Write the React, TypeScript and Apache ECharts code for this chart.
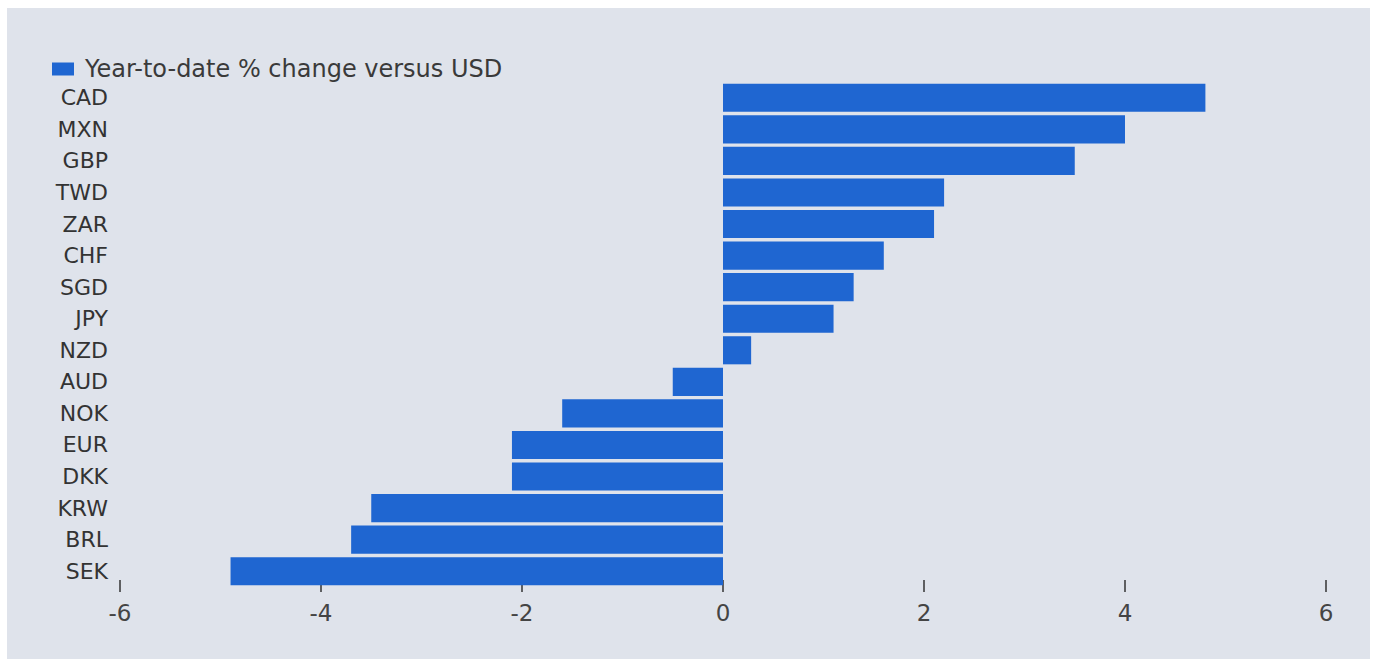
import React, { useEffect, useRef } from "react";
import * as echarts from "echarts";

const categories = ["CAD", "MXN", "GBP", "TWD", "ZAR", "CHF", "SGD", "JPY", "NZD", "AUD", "NOK", "EUR", "DKK", "KRW", "BRL", "SEK"];
const ytdChange = [4.8, 4.0, 3.5, 2.2, 2.1, 1.6, 1.3, 1.1, 0.28, -0.5, -1.6, -2.1, -2.1, -3.5, -3.7, -4.9];
const seriesName = "Year-to-date % change versus USD";
const xTicks = { min: -6, max: 6, interval: 2 };

export default function App() {
  const ref = useRef<HTMLDivElement>(null);
  useEffect(() => {
    if (!ref.current) return;
    const chart = echarts.init(ref.current, null, { renderer: "svg" });
    chart.setOption({
      animation: false,
      backgroundColor: "#ffffff",
      textStyle: { fontFamily: "DejaVu Sans" },
      graphic: [
        {
          type: "rect",
          z: -10,
          silent: true,
          shape: { x: 7, y: 8, width: 1363, height: 651 },
          style: { fill: "#dfe3eb" },
        },
      ],
      legend: {
        left: 52,
        top: 57,
        padding: 0,
        icon: "rect",
        itemWidth: 22,
        itemHeight: 13,
        itemGap: 10,
        textStyle: {
          fontFamily: "DejaVu Sans",
          fontSize: 24,
          lineHeight: 24,
          color: "#3a3a3a",
          padding: [0, 0, 0, 6],
        },
        data: [seriesName],
      },
      grid: { left: 120, right: 49, top: 82, height: 505, containLabel: false },
      xAxis: {
        type: "value",
        min: xTicks.min,
        max: xTicks.max,
        interval: xTicks.interval,
        offset: 5,
        axisLine: { show: false },
        axisTick: { show: true, inside: true, length: 12, lineStyle: { color: "#333", width: 1.5 } },
        splitLine: { show: false },
        axisLabel: { color: "#444", fontSize: 23, margin: 9, fontFamily: "DejaVu Sans" },
      },
      yAxis: {
        type: "category",
        inverse: true,
        data: categories,
        axisLine: { show: false },
        axisTick: { show: false },
        axisLabel: { color: "#333", fontSize: 22, margin: 12, fontFamily: "DejaVu Sans" },
      },
      series: [
        {
          name: seriesName,
          type: "bar",
          data: ytdChange,
          barCategoryGap: "11%",
          itemStyle: { color: "#1f66d1" },
        },
      ],
    });
    return () => chart.dispose();
  }, []);
  return <div ref={ref} style={{ position: "fixed", left: 0, top: 0, width: 1375, height: 659 }} />;
}
